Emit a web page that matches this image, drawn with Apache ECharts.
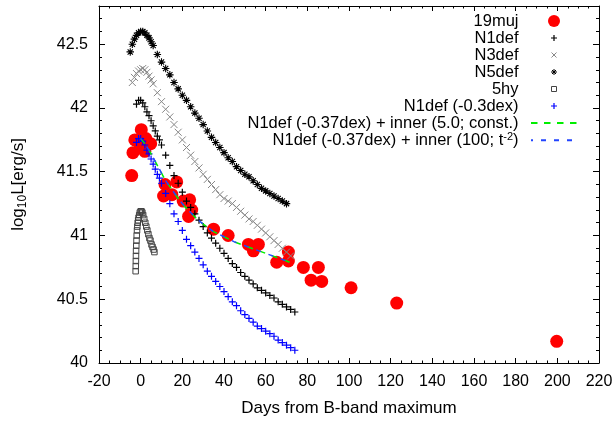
<!DOCTYPE html>
<html>
<head>
<meta charset="utf-8">
<script src="https://cdn.jsdelivr.net/npm/echarts@6/dist/echarts.min.js"></script>
<style>
  html, body { margin: 0; padding: 0; background: #fff; }
  #chart { width: 616px; height: 422px; }
</style>
</head>
<body>
<div id="chart"></div>
<script>
const FONT = '"Liberation Sans", Arial, Helvetica, sans-serif';

// 19muj: observed bolometric light curve
const obsDays = [-4.3, -3.7, -2.8, -0.5, 0.3, 2.5, 4.8, 2.0,
  11.0, 11.7, 15.0, 17.3, 20.4, 23.5, 23.0, 24.5,
  35.0, 42.0, 51.7, 54.1, 56.5, 65.3, 70.9, 70.9,
  78.1, 81.8, 85.3, 86.9, 101.0, 122.9, 199.7];
const obsLogL = [41.47, 41.65, 41.75, 41.72, 41.83, 41.76, 41.72, 41.66,
  41.31, 41.40, 41.32, 41.42, 41.27, 41.28, 41.15, 41.20,
  41.05, 41.00, 40.93, 40.88, 40.93, 40.79, 40.87, 40.80,
  40.75, 40.65, 40.75, 40.64, 40.59, 40.47, 40.17];

// N1def model
const n1Days = [-2, -1, 0, 1, 2, 3, 4, 5, 6, 7, 8, 9, 10,
  12, 14, 16, 18, 20, 22, 24, 26, 28, 30, 32, 34, 36, 38, 40, 42,
  44, 46, 48, 50, 52, 54, 56, 58, 60, 62, 64, 66, 68, 70, 72, 74];
const n1LogL = [42.03, 42.06, 42.06, 42.04, 42.01, 41.97, 41.94, 41.90, 41.86, 41.82, 41.78, 41.75, 41.71,
  41.63, 41.55, 41.47, 41.41, 41.34, 41.27, 41.22, 41.17, 41.12, 41.07, 41.02, 40.98, 40.94, 40.90, 40.86, 40.82,
  40.78, 40.75, 40.71, 40.68, 40.65, 40.62, 40.59, 40.57, 40.55, 40.53, 40.51, 40.48, 40.46, 40.44, 40.42, 40.40];

// N1def shifted by -0.3 dex
const n1ShiftLogL = [41.73, 41.76, 41.76, 41.74, 41.71, 41.67, 41.64, 41.60, 41.56, 41.52, 41.48, 41.45, 41.41,
  41.33, 41.25, 41.17, 41.11, 41.04, 40.97, 40.92, 40.87, 40.82, 40.77, 40.72, 40.68, 40.64, 40.60, 40.56, 40.52,
  40.48, 40.45, 40.41, 40.38, 40.35, 40.32, 40.29, 40.27, 40.25, 40.23, 40.21, 40.18, 40.16, 40.14, 40.12, 40.10];

// N3def model
const n3Days = [-4, -3, -2, -1, 0, 1, 2, 3, 4, 5, 6,
  8, 10, 12, 14, 16, 18, 20, 22, 24, 26, 28, 30, 32, 34, 36, 38, 40,
  42, 44, 46, 48, 50, 52, 54, 56, 58, 60, 62, 64, 66, 68, 70, 72];
const n3LogL = [42.20, 42.24, 42.27, 42.29, 42.30, 42.31, 42.30, 42.28, 42.25, 42.22, 42.19,
  42.12, 42.05, 41.99, 41.93, 41.87, 41.81, 41.75, 41.69, 41.63, 41.58, 41.53, 41.48, 41.44, 41.40, 41.36, 41.32, 41.29,
  41.27, 41.25, 41.22, 41.19, 41.16, 41.13, 41.11, 41.08, 41.05, 41.02, 40.99, 40.96, 40.93, 40.90, 40.87, 40.84];

// N5def model
const n5Days = [-5, -4, -3, -2, -1, 0, 1, 2, 3, 4, 5, 6,
  8, 10, 12, 14, 16, 18, 20, 22, 24, 26, 28, 30, 32, 34, 36, 38,
  40, 42, 44, 46, 48, 50, 52, 54, 56, 58, 60, 62, 64, 66, 68, 70];
const n5LogL = [42.44, 42.50, 42.54, 42.57, 42.59, 42.60, 42.60, 42.59, 42.57, 42.55, 42.52, 42.49,
  42.42, 42.36, 42.31, 42.26, 42.20, 42.15, 42.10, 42.06, 42.01, 41.96, 41.92, 41.87, 41.82, 41.77, 41.73, 41.69,
  41.65, 41.61, 41.58, 41.54, 41.51, 41.48, 41.46, 41.43, 41.40, 41.37, 41.35, 41.33, 41.31, 41.29, 41.27, 41.25];

// 5hy model
const hyDays = [-2.4, -2.35, -2.3, -2.25, -2.2, -2.1, -2.0, -1.9, -1.75, -1.6, -1.4, -1.2, -1.0, -0.7, -0.4, 0.0,
  0.4, 0.8, 1.2, 1.7, 2.2, 2.7, 3.2, 3.7, 4.2, 4.7, 5.2, 5.7, 6.2, 6.6];
const hyLogL = [40.72, 40.76, 40.80, 40.84, 40.88, 40.92, 40.96, 41.00, 41.04, 41.07, 41.10, 41.12, 41.14, 41.16, 41.18, 41.19,
  41.19, 41.18, 41.16, 41.13, 41.10, 41.07, 41.04, 41.01, 40.98, 40.96, 40.93, 40.91, 40.89, 40.87];

// N1def (-0.37 dex) plus inner component, two variants
const innerDays = [0, 2, 4, 6, 8, 10, 12, 15, 18, 21, 24, 27, 30, 35, 40, 45, 50, 55, 60, 65, 70, 73];
const innerConstLogL = [41.76, 41.72, 41.67, 41.61, 41.55, 41.49, 41.43, 41.36, 41.29, 41.23, 41.18, 41.13,
  41.09, 41.03, 40.99, 40.95, 40.92, 40.89, 40.86, 40.83, 40.80, 40.78];
const innerPowLogL = [41.76, 41.72, 41.67, 41.61, 41.55, 41.49, 41.43, 41.36, 41.29, 41.23, 41.18, 41.13,
  41.09, 41.03, 40.99, 40.95, 40.92, 40.89, 40.86, 40.83, 40.80, 40.78];

// Axis ticks
const xMin = -20, xMax = 220, xMajor = 20, xMinor = 5;
const yMin = 40, yMax = 42.8, yMajor = 0.5, yMinor = 0.1;

const pairs = (xs, ys) => xs.map((x, i) => [x, ys[i]]);

const PLUS = 'path://M5,0L5,10M0,5L10,5';
const CROSS = 'path://M0,0L10,10M0,10L10,0';
const STAR = 'path://M5,0L5,10M0,5L10,5M1.5,1.5L8.5,8.5M1.5,8.5L8.5,1.5';
// legend variants padded to a 12x12 box so the glyph stays small
const PLUS_KEY = 'path://M0,0L0,0M12,12L12,12M6,3L6,9M3,6L9,6';
const CROSS_KEY = 'path://M0,0L0,0M12,12L12,12M3.5,3.5L8.5,8.5M3.5,8.5L8.5,3.5';
const STAR_KEY = 'path://M0,0L0,0M12,12L12,12M6,3L6,9M3,6L9,6M4,4L8,8M4,8L8,4';
const SQUARE_KEY = 'path://M0,0L0,0M12,12L12,12M3.5,3.5L8.5,3.5L8.5,8.5L3.5,8.5Z';

const markerStyle = (c, w) => ({ color: 'rgba(0,0,0,0)', borderColor: c, borderWidth: w || 1, opacity: 1 });
const hidden = { color: 'rgba(0,0,0,0)', borderColor: 'rgba(0,0,0,0)', borderWidth: 0 };

function axisBase(kind, position, interval, tickLen, showLine, labels) {
  return {
    type: 'value', position, interval,
    min: kind === 'x' ? xMin : yMin,
    max: kind === 'x' ? xMax : yMax,
    axisLine: { show: showLine, onZero: false, lineStyle: { color: '#000', width: 1 } },
    axisTick: { show: true, inside: true, length: tickLen, lineStyle: { color: '#000', width: 1 } },
    axisLabel: labels ? labels : { show: false },
    splitLine: { show: false },
    minorTick: { show: false }
  };
}

const xMain = axisBase('x', 'bottom', xMajor, 5, true, {
  show: true, margin: 11, color: '#000', fontSize: 16, fontFamily: FONT
});
xMain.name = 'Days from B-band maximum';
xMain.nameLocation = 'middle';
xMain.nameGap = 37;
xMain.nameTextStyle = { color: '#000', fontSize: 17, fontFamily: FONT };

const yMain = axisBase('y', 'left', yMajor, 6, true, {
  show: true, margin: 11, color: '#000', fontSize: 16, fontFamily: FONT,
  formatter: (v) => (v > 42.6 ? '' : String(+v.toFixed(1)))
});
yMain.name = '{n|log}{s|10}{n|L[erg/s]}';
yMain.nameLocation = 'middle';
yMain.nameRotate = 90;
yMain.nameGap = 70;
yMain.nameTextStyle = {
  color: '#000', fontSize: 17, fontFamily: FONT,
  rich: {
    n: { fontSize: 17, lineHeight: 22, fontFamily: FONT, color: '#000' },
    s: { fontSize: 12, verticalAlign: 'bottom', fontFamily: FONT, color: '#000' }
  }
};

const option = {
  animation: false,
  backgroundColor: '#fff',
  grid: { left: 99, right: 17, top: 6, bottom: 55, containLabel: false },
  xAxis: [
    xMain,
    axisBase('x', 'bottom', xMinor, 2.5, false, null),
    axisBase('x', 'top', xMajor, 5, true, null),
    axisBase('x', 'top', xMinor, 2.5, false, null)
  ],
  yAxis: [
    yMain,
    axisBase('y', 'left', yMinor, 3, false, null),
    axisBase('y', 'right', yMajor, 6, true, null),
    axisBase('y', 'right', yMinor, 3, false, null)
  ],
  legend: {
    orient: 'vertical', right: 38, top: 12.5, padding: 0,
    itemWidth: 46, itemHeight: 12, itemGap: 0, align: 'right',
    selectedMode: false,
    textStyle: {
      fontFamily: FONT, fontSize: 16.5, color: '#000', width: 330,
      rich: {
        a: { fontFamily: FONT, fontSize: 16.5, lineHeight: 17.5, align: 'right', color: '#000' },
        p: { fontFamily: FONT, fontSize: 11, verticalAlign: 'top', align: 'right', color: '#000' },
        g: { width: 7.5, align: 'right' }
      }
    },
    formatter: (name) => {
      const parts = name.split('^');
      if (parts.length === 2) {
        return '{a|' + parts[0] + '}{p|' + parts[1].slice(0, 2) + '}{a|' + parts[1].slice(2) + '}{g|}';
      }
      return '{a|' + name + '}{g|}';
    },
    data: [
      { name: '19muj', icon: 'circle', itemStyle: { color: '#ff0000', opacity: 1 } },
      { name: 'N1def', icon: PLUS_KEY, itemStyle: markerStyle('#000', 1.2) },
      { name: 'N3def', icon: CROSS_KEY, itemStyle: markerStyle('#888') },
      { name: 'N5def', icon: STAR_KEY, itemStyle: markerStyle('#000') },
      { name: '5hy', icon: SQUARE_KEY, itemStyle: markerStyle('#444') },
      { name: 'N1def (-0.3dex)', icon: PLUS_KEY, itemStyle: markerStyle('#0000ff', 1.2) },
      { name: 'N1def (-0.37dex) + inner (5.0; const.)', itemStyle: hidden },
      { name: 'N1def (-0.37dex) + inner (100; t^-2)', itemStyle: hidden }
    ]
  },
  series: [
    {
      name: '19muj', type: 'scatter', data: pairs(obsDays, obsLogL),
      symbol: 'circle', symbolSize: 13, itemStyle: { color: '#ff0000', opacity: 1 }
    },
    {
      name: 'N1def', type: 'scatter', data: pairs(n1Days, n1LogL),
      symbol: PLUS, symbolSize: 7, itemStyle: markerStyle('#000', 1.2)
    },
    {
      name: 'N3def', type: 'scatter', data: pairs(n3Days, n3LogL),
      symbol: CROSS, symbolSize: 7, itemStyle: markerStyle('#888')
    },
    {
      name: 'N5def', type: 'scatter', data: pairs(n5Days, n5LogL),
      symbol: STAR, symbolSize: 7.5, itemStyle: markerStyle('#000', 1.1)
    },
    {
      name: '5hy', type: 'scatter', data: pairs(hyDays, hyLogL),
      symbol: 'rect', symbolSize: 5.5, itemStyle: markerStyle('#444')
    },
    {
      name: 'N1def (-0.3dex)', type: 'scatter', data: pairs(n1Days, n1ShiftLogL),
      symbol: PLUS, symbolSize: 7, itemStyle: markerStyle('#0000ff', 1.2)
    },
    {
      name: 'N1def (-0.37dex) + inner (5.0; const.)', type: 'line', data: pairs(innerDays, innerConstLogL),
      symbol: 'none', smooth: false,
      lineStyle: { color: '#00ee00', width: 1.5, type: [6.5, 6.5] },
      itemStyle: { color: '#00ee00' }
    },
    {
      name: 'N1def (-0.37dex) + inner (100; t^-2)', type: 'line', data: pairs(innerDays, innerPowLogL),
      symbol: 'none', smooth: false,
      lineStyle: { color: '#2244ff', width: 1.5, type: [5, 8], dashOffset: 3 },
      itemStyle: { color: '#2244ff' }
    }
  ]
};

const chart = echarts.init(document.getElementById('chart'), null, { renderer: 'canvas' });
chart.setOption(option);
</script>
</body>
</html>
